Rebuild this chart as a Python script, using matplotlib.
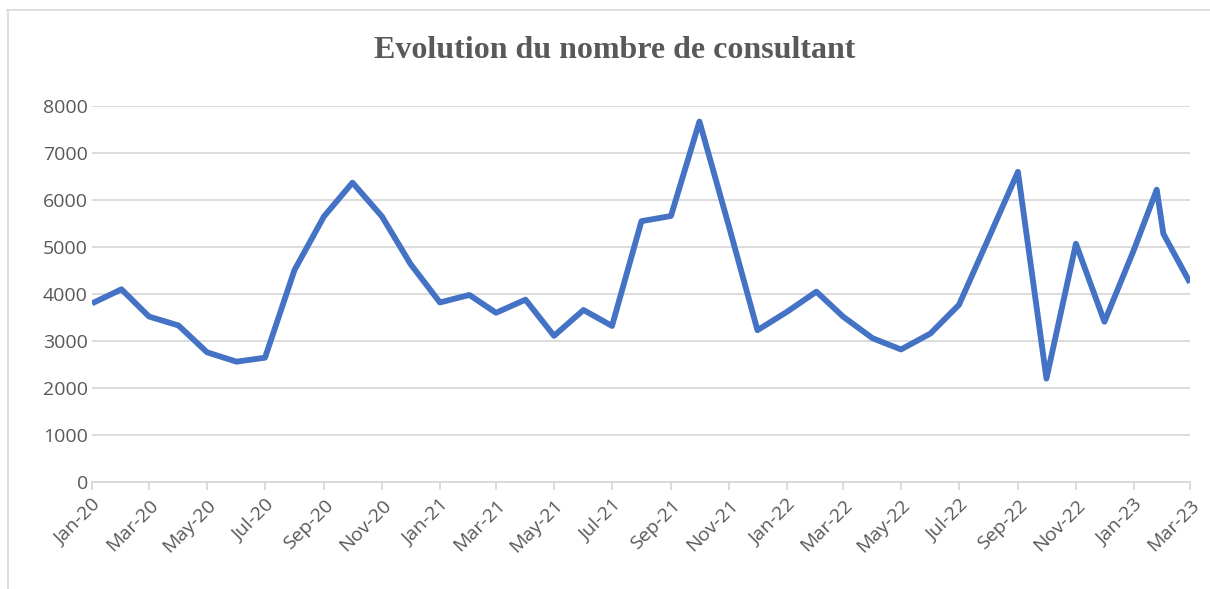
import matplotlib
matplotlib.use("Agg")
import matplotlib.pyplot as plt
import matplotlib.dates as mdates
from matplotlib.lines import Line2D
import numpy as np
import datetime as dt

# ---- data ----
dates = [
    "2020-01-01", "2020-02-01", "2020-03-01", "2020-04-01", "2020-05-01", "2020-06-01",
    "2020-07-01", "2020-08-01", "2020-09-01", "2020-10-01", "2020-11-01", "2020-12-01",
    "2021-01-01", "2021-02-01", "2021-03-01", "2021-04-01", "2021-05-01", "2021-06-01",
    "2021-07-01", "2021-08-01", "2021-09-01", "2021-10-01", "2021-11-01", "2021-12-01",
    "2022-01-01", "2022-02-01", "2022-03-01", "2022-04-01", "2022-05-01", "2022-06-01",
    "2022-07-01", "2022-08-01", "2022-09-01", "2022-10-01", "2022-11-01", "2022-12-01",
    "2023-01-01", "2023-01-25", "2023-02-01", "2023-03-01",
]
consultants = [
    3800, 4100, 3520, 3330, 2760, 2560, 2645, 4510, 5650, 6370, 5650, 4640,
    3820, 3980, 3600, 3880, 3110, 3660, 3320, 5550, 5660, 7670, 5440, 3230,
    3620, 4050, 3520, 3060, 2820, 3160, 3770, 5180, 6600, 2200, 5070, 3410,
    4940, 6220, 5280, 4240,
]
y_ticks = [0, 1000, 2000, 3000, 4000, 5000, 6000, 7000, 8000]
title = "Evolution du nombre de consultant"

x = [dt.datetime.strptime(d, "%Y-%m-%d") for d in dates]

W, H = 1210, 589
fig = plt.figure(figsize=(W / 100, H / 100), dpi=100)
fig.patch.set_facecolor("white")

# plot area in pixel coords: x 92..1190, y 106(8000)..482(0)
left, right, top, bottom = 92, 1190, 106, 482
ax = fig.add_axes([left / W, 1 - bottom / H, (right - left) / W, (bottom - top) / H])

ax.plot(x, consultants, color="#4472C4", linewidth=4.2,
        solid_joinstyle="round", solid_capstyle="butt", zorder=3)

ax.set_xlim(dt.datetime(2020, 1, 1), dt.datetime(2023, 3, 1))
ax.set_ylim(0, 8000)
ax.set_yticks(y_ticks)
ax.set_yticklabels([str(v) for v in y_ticks])

ax.xaxis.set_major_locator(mdates.MonthLocator(bymonth=[1, 3, 5, 7, 9, 11]))
ax.xaxis.set_major_formatter(mdates.DateFormatter("%b-%y"))

ax.grid(axis="y", color="#d9d9d9", linewidth=1.3, zorder=0)
ax.grid(axis="x", visible=False)
for s in ["top", "right", "left"]:
    ax.spines[s].set_visible(False)
ax.spines["bottom"].set_color("#d9d9d9")
ax.spines["bottom"].set_linewidth(1.3)

ax.tick_params(axis="y", length=0, pad=3, labelsize=14, labelcolor="#595959")
ax.tick_params(axis="x", length=6, width=1.3, color="#d9d9d9", pad=4,
               labelsize=14, labelcolor="#595959")
for lab in ax.get_xticklabels():
    lab.set_fontfamily("Open Sans")
    lab.set_rotation(45)
    lab.set_ha("right")
    lab.set_rotation_mode("anchor")
for lab in ax.get_yticklabels():
    lab.set_fontfamily("Open Sans")

fig.text(615 / W, 1 - 51 / H, title, ha="center", va="center",
         fontsize=23, fontweight="bold", color="#595959",
         family="Liberation Serif")

# chart border (partially visible)
fig.add_artist(Line2D([7 / W, 1.0], [1 - 10 / H, 1 - 10 / H], color="#d9d9d9",
                      linewidth=1.2, transform=fig.transFigure))
fig.add_artist(Line2D([8 / W, 8 / W], [0, 1 - 10 / H], color="#d9d9d9",
                      linewidth=1.2, transform=fig.transFigure))

fig.savefig("out.png", dpi=100, facecolor="white")
